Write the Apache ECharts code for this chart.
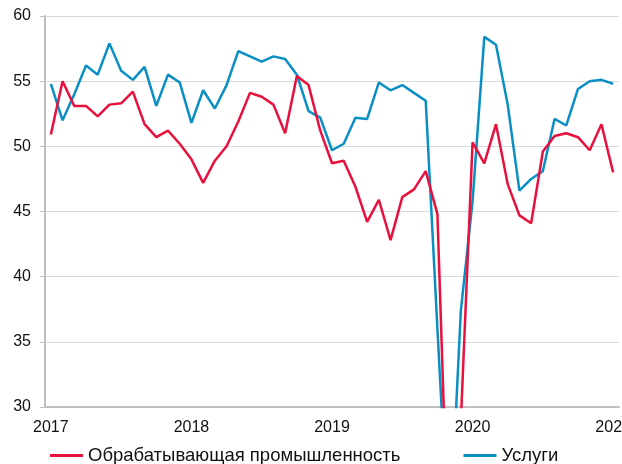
<!DOCTYPE html>
<html>
<head>
<meta charset="utf-8">
<script src="https://cdn.jsdelivr.net/npm/echarts@6/dist/echarts.min.js"></script>
<style>
  html, body { margin: 0; padding: 0; background: #fff; }
  #chart { width: 622px; height: 464px; }
</style>
</head>
<body>
<div id="chart"></div>
<script>
/* PMI: обрабатывающая промышленность и услуги, помесячно 2017-01 .. 2021-01 */
const years = [2017, 2018, 2019, 2020, 2021];
const months = [];
years.forEach(y => { for (let m = 1; m <= 12; m++) if (y < 2021 || m === 1) months.push(y + '-' + String(m).padStart(2, '0')); });

const manuf = [
  50.9, 55.0, 53.1, 53.1, 52.3, 53.2, 53.3, 54.2, 51.7, 50.7, 51.2, 50.2,
  49.0, 47.2, 48.9, 50.0, 51.9, 54.1, 53.8, 53.2, 51.0, 55.4, 54.7, 51.2,
  48.7, 48.9, 46.9, 44.2, 45.9, 42.8, 46.1, 46.7, 48.1, 44.8, 17.3, 28.9,
  50.3, 48.7, 51.7, 47.1, 44.7, 44.1, 49.6, 50.8, 51.0, 50.7, 49.7, 51.7,
  48.0
];
const services = [
  54.8, 52.0, 54.0, 56.2, 55.5, 57.9, 55.8, 55.1, 56.1, 53.1, 55.5, 54.9,
  51.8, 54.3, 52.9, 54.7, 57.3, 56.9, 56.5, 56.9, 56.7, 55.5, 52.7, 52.2,
  49.7, 50.2, 52.2, 52.1, 54.9, 54.3, 54.7, 54.1, 53.5, 36.0, 19.0, 37.4,
  45.8, 58.4, 57.8, 53.2, 46.6, 47.5, 48.1, 52.1, 51.6, 54.4, 55.0, 55.1,
  54.8
];
const names = ['Обрабатывающая промышленность', 'Услуги'];
const colors = ['#e8103c', '#0a8fc4'];

const FONT = "'Liberation Sans', Arial, sans-serif";
const axisGray = '#bfbfbf';

const chart = echarts.init(document.getElementById('chart'), null, { renderer: 'canvas' });
chart.setOption({
  animation: false,
  textStyle: { fontFamily: FONT },
  grid: { left: 45, right: 3, top: 16, bottom: 57, containLabel: false, outerBoundsMode: 'none' },
  legend: {
    left: 45, top: 441, itemGap: 63, itemWidth: 33, itemHeight: 3, icon: 'rect',
    textStyle: { fontSize: 18.5, color: '#111', fontFamily: FONT },
    data: names
  },
  xAxis: {
    type: 'category', data: months, boundaryGap: true,
    axisLine: { lineStyle: { color: axisGray, width: 2 } },
    axisTick: { interval: 11, length: 5, lineStyle: { color: axisGray, width: 1 } },
    axisLabel: { interval: 11, margin: 13, fontSize: 16, color: '#111', formatter: v => v.slice(0, 4) },
    splitLine: { show: false }
  },
  yAxis: {
    type: 'value', min: 30, max: 60, interval: 5,
    axisLine: { show: true, lineStyle: { color: axisGray, width: 2 } },
    axisTick: { show: true, length: 5, lineStyle: { color: axisGray, width: 1 } },
    axisLabel: { margin: 14, fontSize: 16, color: '#111' },
    splitLine: { lineStyle: { color: '#d9d9d9', width: 1 } }
  },
  series: [
    { name: names[0], type: 'line', data: manuf, symbol: 'none', clip: true, z: 3,
      lineStyle: { color: colors[0], width: 2.5 }, itemStyle: { color: colors[0] } },
    { name: names[1], type: 'line', data: services, symbol: 'none', clip: true, z: 2,
      lineStyle: { color: colors[1], width: 2.5 }, itemStyle: { color: colors[1] } }
  ]
});
</script>
</body>
</html>
